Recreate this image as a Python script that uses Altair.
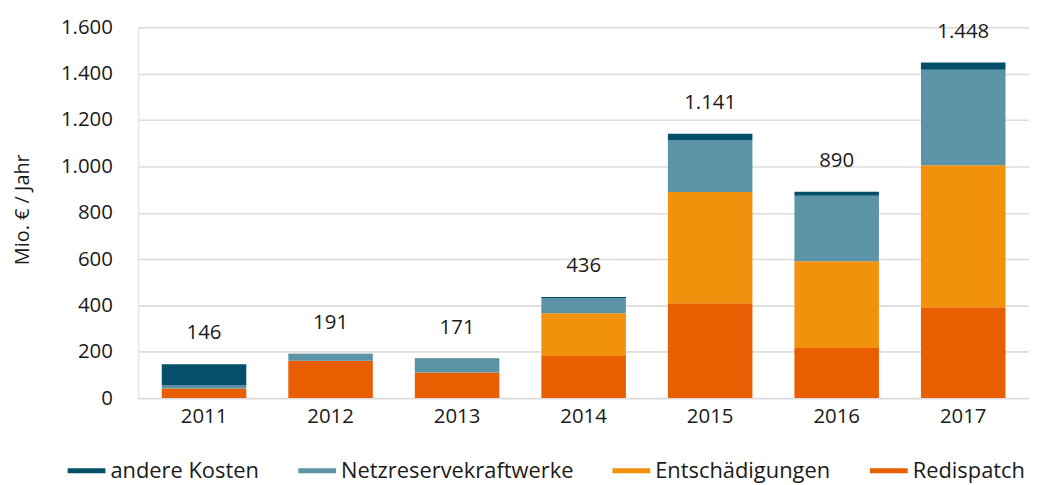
import altair as alt
import pandas as pd

years = ["2011", "2012", "2013", "2014", "2015", "2016", "2017"]
redispatch = [42, 161, 111, 182, 409, 216, 392]
entschaedigungen = [0, 0, 0, 184, 480, 374, 613]
netzreserve = [12, 28, 56, 66, 223, 283, 412]
andere = [92, 2, 4, 4, 29, 17, 31]
total_labels = ["146", "191", "171", "436", "1.141", "890", "1.448"]

series = ["andere Kosten", "Netzreservekraftwerke", "Entschädigungen", "Redispatch"]
colors = ["#04506A", "#5B93A7", "#F2910C", "#E85E00"]
stack_order = {"Redispatch": 0, "Entschädigungen": 1, "Netzreservekraftwerke": 2, "andere Kosten": 3}

rows = []
for i, y in enumerate(years):
    for name, vals in [("Redispatch", redispatch), ("Entschädigungen", entschaedigungen),
                       ("Netzreservekraftwerke", netzreserve), ("andere Kosten", andere)]:
        rows.append({"Jahr": y, "Kategorie": name, "Wert": vals[i], "ord": stack_order[name]})
df = pd.DataFrame(rows)

tot = pd.DataFrame({
    "Jahr": years,
    "top": [redispatch[i] + entschaedigungen[i] + netzreserve[i] + andere[i] for i in range(len(years))],
    "label": total_labels,
})

FONT = "Open Sans"
TXT = "#1a1a1a"

x_enc = alt.X("Jahr:N", title=None, sort=years,
              scale=alt.Scale(paddingInner=0.332, paddingOuter=0.186),
              axis=alt.Axis(labelAngle=0, ticks=False, domain=False, labelPadding=9,
                            labelFontSize=20.5, labelColor=TXT, labelFont=FONT))

bars = alt.Chart(df).mark_bar().encode(
    x=x_enc,
    y=alt.Y("Wert:Q", stack="zero",
            scale=alt.Scale(domain=[0, 1600], nice=False),
            axis=alt.Axis(values=list(range(0, 1601, 200)), title="Mio. € / Jahr",
                          labelExpr="replace(format(datum.value, ',d'), ',', '.')",
                          ticks=False, domain=False, labelPadding=26,
                          labelFontSize=20.5, labelColor=TXT, labelFont=FONT,
                          titleFontSize=20, titleFontWeight="normal", titleColor=TXT,
                          titleFont=FONT, titleX=-116, titleY=183, titleAlign="center",
                          titleBaseline="middle", titleAngle=270,
                          gridColor="#DCDCDC", gridWidth=1.6)),
    color=alt.Color("Kategorie:N", sort=series,
                    scale=alt.Scale(domain=series, range=colors),
                    legend=alt.Legend(title=None, orient="none", direction="horizontal",
                                      legendX=-71, legendY=427,
                                      symbolType="M-1,-0.13L1,-0.13L1,0.13L-1,0.13Z",
                                      symbolSize=1444, symbolStrokeWidth=0,
                                      labelFontSize=22, labelFont=FONT, labelColor=TXT,
                                      labelLimit=400,
                                      labelOffset=5, columnPadding=39, symbolOpacity=1)),
    order=alt.Order("ord:Q", sort="ascending"),
)

labels = alt.Chart(tot).mark_text(fontSize=20.5, font=FONT, color=TXT,
                                   baseline="middle", dy=-31).encode(
    x=alt.X("Jahr:N", sort=years),
    y=alt.Y("top:Q"),
    text="label:N",
)

chart = alt.layer(bars, labels).properties(
    width=896, height=373,
    autosize=alt.AutoSizeParams(type="none"),
    padding={"left": 131, "top": 18, "right": 0, "bottom": 86},
).configure_view(stroke=None).configure(font=FONT)

chart.save("out.html", embed_options={"renderer": "svg", "actions": False})
